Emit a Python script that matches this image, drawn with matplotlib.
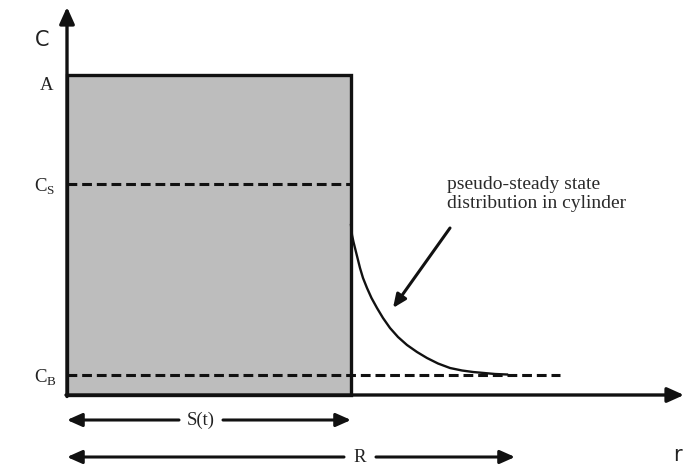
import matplotlib.pyplot as plt
from matplotlib.patches import Rectangle

# levels on the C axis (distance above the r axis)
level_A = 320
level_Cs = 211
level_Cb = 20
s_t = 284          # front position S(t)
r_end = 448        # end of the R arrow
cb_end = 493       # end of the dashed C_B line

# pseudo-steady state profile (r, C)
curve_r = [284, 285, 286.5, 288, 290.5, 293, 296, 300, 304.5, 310, 316, 323, 331,
           340, 350, 360, 371, 383, 395, 406, 417, 428, 440]
curve_c = [170, 160, 153, 147, 137, 127, 117, 107, 97, 87, 77, 67, 58,
           50, 43, 37, 31.5, 27, 24.5, 23, 22, 21, 20.5]

serif = ['Liberation Serif', 'DejaVu Serif']
ink = '#111111'

fig = plt.figure(figsize=(6.84, 4.65), dpi=100)
ax = fig.add_axes([0, 0, 1, 1])
ax.set_xlim(-67, 617)
ax.set_ylim(-70, 395)
ax.axis('off')

# shaded block
ax.add_patch(Rectangle((0, 0), s_t, level_A, facecolor='#bdbdbd',
                       edgecolor=ink, linewidth=2.4, zorder=1))

# dashed levels
ax.plot([0, s_t], [level_Cs, level_Cs], color=ink, lw=2.2, ls=(0, (3.2, 1.6)), zorder=2)
ax.plot([0, cb_end], [level_Cb, level_Cb], color=ink, lw=2.2, ls=(0, (3.2, 1.6)), zorder=2)

# profile
ax.plot(curve_r, curve_c, color=ink, lw=1.7, zorder=3, solid_joinstyle='round')

# axes with arrow heads
ax.annotate('', xy=(0, 388), xytext=(0, -1.5),
            arrowprops=dict(arrowstyle='-|>,head_length=1.0,head_width=0.45',
                            color=ink, lw=2.4, shrinkA=0, shrinkB=0))
ax.annotate('', xy=(617, 0), xytext=(-1, 0),
            arrowprops=dict(arrowstyle='-|>,head_length=1.0,head_width=0.45',
                            color=ink, lw=2.4, shrinkA=0, shrinkB=0))

ax.text(-25, 355, 'C', fontsize=15, ha='center', va='center', color='#222222')
ax.text(610, -60, 'r', fontsize=15, ha='center', va='center', color='#222222')

ax.text(-20, 310, 'A', fontsize=13.5, ha='center', va='center', family=serif, color='#222222')
ax.text(-22, 208, r'C$_\mathregular{S}$', fontsize=13.5, ha='center', va='center',
        family=serif, color='#222222')
ax.text(-22, 17, r'C$_\mathregular{B}$', fontsize=13.5, ha='center', va='center',
        family=serif, color='#222222')


def dim_arrow(x_end, y, label, x_label, gap):
    arrow = dict(arrowstyle='-|>,head_length=0.9,head_width=0.4',
                 color=ink, lw=2.2, shrinkA=0, shrinkB=0)
    ax.annotate('', xy=(0, y), xytext=(x_label - gap, y), arrowprops=arrow)
    ax.annotate('', xy=(x_end, y), xytext=(x_label + gap, y), arrowprops=arrow)
    ax.text(x_label, y, label, fontsize=13.5, ha='center', va='center',
            family=serif, color='#222222')


dim_arrow(s_t, -25, 'S(t)', 134, 22)
dim_arrow(r_end, -62, 'R', 293, 16)

# annotation
ax.annotate('', xy=(326, 87), xytext=(383, 167),
            arrowprops=dict(arrowstyle='-|>,head_length=0.8,head_width=0.35',
                            color=ink, lw=2.2, shrinkA=0, shrinkB=0))
ax.text(380, 219, 'pseudo-steady state\ndistribution in cylinder', fontsize=14,
        ha='left', va='top', family=serif, color='#2a2a2a', linespacing=1.15)

fig.savefig('out.png', dpi=100)
